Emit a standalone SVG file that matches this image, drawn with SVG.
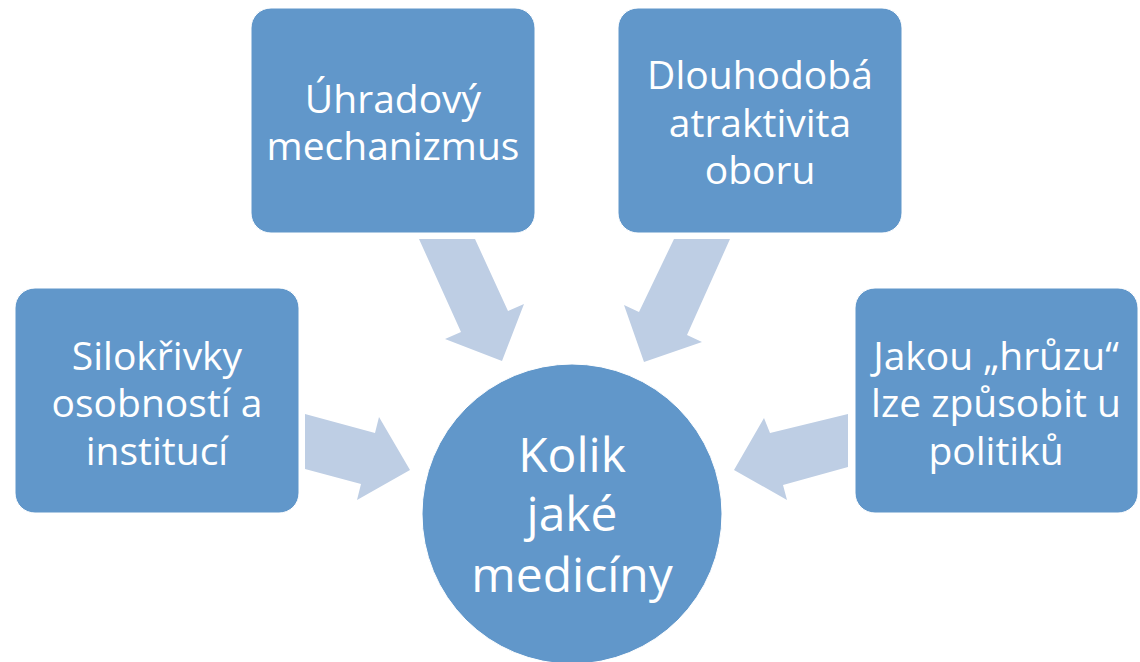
<svg xmlns="http://www.w3.org/2000/svg" width="1140" height="662" viewBox="0 0 1140 662">
<style>
.box{fill:#6197CA;stroke:#FFFFFF;stroke-width:1}
.arr{fill:#BECEE4}
.t{font-family:"Open Sans","Noto Sans","Liberation Sans",sans-serif;fill:#FFFFFF;text-anchor:middle;font-size:39px}
.tc{font-size:48px}
</style>
<rect width="1140" height="662" fill="#FFFFFF"/>
<g id="connectors">
<polygon class="arr" points="419,239 475,239 508,311 524,304 502,361 445,339 461,332"/>
<polygon class="arr" points="674,239 730,239 687,335 702,342 644,362 624,305 639,312"/>
<polygon class="arr" points="305,414 375,433 379,417 410,470 357,500 361,484 305,469"/>
<polygon class="arr" points="848,414 770,433 764,418 734,470 787,500 783,485 848,467"/>
</g>
<g id="center">
<circle cx="572" cy="514" r="150" class="box"/>
<text class="t tc" x="572" y="472">Kolik</text>
<text class="t tc" x="572" y="531">jaké</text>
<text class="t tc" x="572" y="592">medicíny</text>
</g>
<g id="uhradovy">
<rect class="box" x="251" y="8" width="284" height="225" rx="20"/>
<text class="t" x="393" y="113">Úhradový</text>
<text class="t" x="393" y="160">mechanizmus</text>
</g>
<g id="dlouhodoba">
<rect class="box" x="618" y="8" width="284" height="225" rx="20"/>
<text class="t" x="760" y="89">Dlouhodobá</text>
<text class="t" x="760" y="137">atraktivita</text>
<text class="t" x="760" y="184">oboru</text>
</g>
<g id="silokrivky">
<rect class="box" x="15" y="288" width="284" height="225" rx="20"/>
<text class="t" x="157" y="370">Silokřivky</text>
<text class="t" x="157" y="417">osobností a</text>
<text class="t" x="157" y="465">institucí</text>
</g>
<g id="hruza">
<rect class="box" x="855" y="288" width="283" height="225" rx="20"/>
<text class="t" x="996" y="370">Jakou „hrůzu“</text>
<text class="t" x="996" y="417">lze způsobit u</text>
<text class="t" x="996" y="465">politiků</text>
</g>
</svg>
